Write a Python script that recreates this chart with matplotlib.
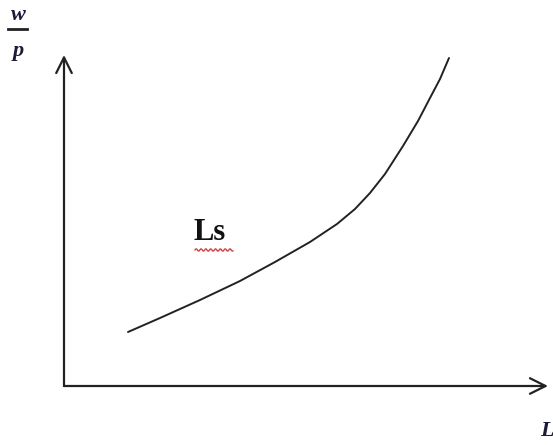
import numpy as np
import matplotlib.pyplot as plt

# curve points (L, w/p), origin at the axes corner
labor = [64, 96, 136, 176, 211, 246, 273, 291, 306, 321, 339, 354, 366, 376, 385]
real_wage = [54, 68, 86, 105, 124, 144, 162, 177, 193, 212, 240, 265, 288, 307, 328]

fig = plt.figure(figsize=(5.53, 4.45), dpi=100)
ax = fig.add_axes([0, 0, 1, 1])
# origin of the drawn axes sits at pixel (64, 386)
ax.set_xlim(-64, 553 - 64)
ax.set_ylim(386 - 445, 386)
ax.axis("off")

# axes with open arrow heads
arrow = dict(arrowstyle="->", lw=1.6, color="#222222", mutation_scale=28,
             shrinkA=0, shrinkB=0)
ax.annotate("", xy=(0, 331), xytext=(0, 0), arrowprops=arrow)
ax.annotate("", xy=(484, 0), xytext=(0, 0), arrowprops=arrow)

# labour supply curve
ax.plot(labor, real_wage, color="#222222", lw=1.4, solid_capstyle="round",
        solid_joinstyle="round")

serif = ["Liberation Serif", "DejaVu Serif"]
ax.text(-46, 371, "w", fontsize=16, fontweight="bold", fontstyle="italic",
        family=serif, ha="center", va="center", color="#1a1a3a")
ax.plot([-56, -37], [357, 357], color="#222222", lw=2)
ax.text(-46, 335, "p", fontsize=16, fontweight="bold", fontstyle="italic",
        family=serif, ha="center", va="center", color="#1a1a3a")

ax.text(130, 153, "Ls", fontsize=22, fontweight="bold", family=serif,
        ha="left", va="center", color="#111111")
# red spell-check squiggle under "Ls"
sx = np.linspace(131, 169, 60)
ax.plot(sx, 136 + 1.2 * np.sin((sx - 131) * 1.3), color="#e03030", lw=0.9)

ax.text(476, -45, "L", fontsize=16, fontweight="bold", fontstyle="italic",
        family=serif, ha="left", va="center", color="#1a1a3a")

fig.savefig("out.png", dpi=100)
